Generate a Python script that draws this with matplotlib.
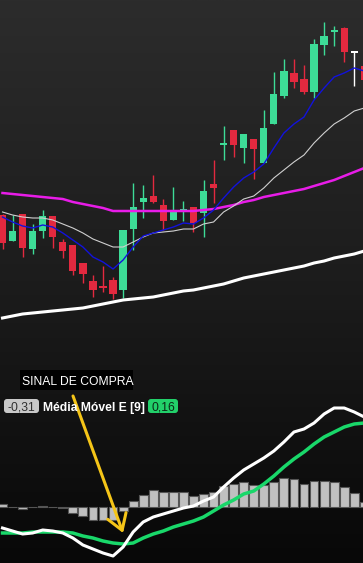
import numpy as np
import matplotlib.pyplot as plt
from matplotlib.colors import LinearSegmentedColormap
from matplotlib.patches import FancyBboxPatch, Rectangle

# candles (price units)
opens  = [115, 89, 116, 81, 99, 114, 88, 85, 67, 49, 43, 50, 40, 101, 128, 134, 125, 110, 119.5,
          123, 117, 146, 185.5, 200, 182, 191, 167, 206, 234, 257, 251, 238, 285, 299, 302, 278, 264]
closes = [87, 99, 82, 99, 114, 93, 79, 59, 56, 40, 42.5, 36, 100, 123, 132, 128, 109, 118, 120,
          107, 139, 142, 186, 185, 196, 181, 202, 236, 259, 248, 238, 286, 294, 299, 278, 278, 250]
highs  = [116, 115, 116, 106, 120, 114, 91, 85, 67, 55, 64, 53, 100, 147, 145, 155, 131, 143, 129,
          123, 150, 170, 204, 200, 196, 191, 220, 258, 271, 271, 265, 291, 308, 304, 303, 278, 264]
lows   = [81, 89, 73, 76, 92, 82, 72, 55, 47, 33, 38, 31, 32, 80, 112, 127, 100, 110, 109,
          98, 93, 127, 170, 173, 167, 151, 167, 206, 232, 242, 236, 232, 275, 284, 268, 244, 250]
special_colors = {35: "white"}

# moving averages
ema9   = [113, 108, 104, 102, 105, 103, 97, 90, 83, 73, 68, 61, 70, 83, 94, 97, 100, 103, 107,
          106, 112, 120, 132, 143, 152, 158, 166, 182, 197, 206, 213, 230, 242, 253, 257, 262, 259]
sma20  = [118, 115, 113, 112, 112, 110, 106, 102, 97, 91, 87, 83, 83, 88, 93, 97, 98, 99, 101,
          101, 106, 108, 118, 124, 131, 134, 142, 152, 160, 168, 175, 187, 197, 206, 212, 219, 222]
sma50  = [137, 136, 135, 134, 133, 132, 131, 128, 126, 124, 122, 119, 119, 119, 119, 119, 119, 119, 119,
          119, 120, 121, 123, 125, 128, 130, 133, 135, 137, 139, 141, 144, 147, 150, 154, 158, 162]
sma200 = [12, 14, 16, 17, 18, 19, 20, 21, 22, 24, 26, 28, 30, 31, 32, 33, 35, 37, 39,
          40, 42, 44, 46, 49, 52, 54, 56, 58, 60, 62, 64, 67, 69, 72, 74, 76, 79]

# MACD panel
macd   = [-21, -24, -27, -26, -23, -24, -26, -31, -38, -42, -46, -49, -40, -25, -15, -10, -7, -4, -1,
          1, 6, 10, 20, 29, 37, 43, 49, 56, 65, 75, 78, 84, 93, 99, 99, 95, 90]
signal = [-26, -26, -26, -25, -25, -25, -25, -26, -29, -31, -34, -36, -37, -36, -31, -27, -24, -20, -17,
          -14, -10, -4, 2, 7, 13, 16, 23, 31, 40, 48, 55, 63, 70, 75, 80, 83, 84]
hist   = [2.7, 0.4, -1.8, 0.3, 0.8, 0.2, -1.3, -5.8, -9, -12.7, -13, -13, -3.5, 5.6, 12.2, 16.6, 14.6, 14.6, 14.6,
          11.4, 13.4, 14.6, 20.6, 22.6, 24.6, 21.6, 22.2, 25, 29, 28, 23, 25.6, 25.6, 25, 20, 14, 5]

W, H = 363, 563
GREEN = "#3ddc97"
RED = "#e3293f"

plt.rcParams["font.family"] = ["Liberation Sans", "DejaVu Sans"]
fig = plt.figure(figsize=(W / 100, H / 100), dpi=100)

bg = fig.add_axes([0, 0, 1, 1], zorder=0)
grad = np.linspace(0, 1, 256).reshape(-1, 1)
cmap = LinearSegmentedColormap.from_list("bg", ["#2c2c2c", "#1c1c1c", "#080808"])
bg.imshow(grad, cmap=cmap, aspect="auto", extent=[0, 1, 0, 1], origin="upper")
bg.axis("off")

x = np.arange(len(opens))
xlim = (-2.5 / 10.05, (W - 2.5) / 10.05)

ax = fig.add_axes([0, 233 / H, 1, 330 / H], zorder=1)
ax.set_facecolor("none")
ax.set_xlim(*xlim)
ax.set_ylim(0, 330)
ax.axis("off")

for i in x:
    o, c = opens[i], closes[i]
    col = special_colors.get(i, GREEN if c >= o else RED)
    ax.vlines(i, lows[i], highs[i], color=col, lw=1.0, zorder=2)
    h = max(abs(c - o), 1.8)
    ax.bar(i, h, bottom=min(o, c) - (h - abs(c - o)) / 2, width=0.72, color=col, lw=0, zorder=2)

ax.plot(x, sma200, color="white", lw=2.2, zorder=3)
ax.plot(x, sma50, color="#e81ce8", lw=1.8, zorder=3)
ax.plot(x, sma20, color="#d0d0d0", lw=0.8, zorder=3)
ax.plot(x, ema9, color="#1212dc", lw=1.0, zorder=3)

ax2 = fig.add_axes([0, 0, 1, 233 / H], zorder=1)
ax2.set_facecolor("none")
ax2.set_xlim(*xlim)
ax2.set_ylim(-56, 177)
ax2.axis("off")
ax2.bar(x, hist, width=0.88, color="#c0c0c0", edgecolor="#555555", lw=0.8, zorder=2)
ax2.plot(x, signal, color="#19d86a", lw=2.5, zorder=3)
ax2.plot(x, macd, color="white", lw=2.2, zorder=4)

# overlay in pixel coordinates for labels
ov = fig.add_axes([0, 0, 1, 1], zorder=5)
ov.set_facecolor("none")
ov.set_xlim(0, W)
ov.set_ylim(H, 0)
ov.axis("off")

ov.add_patch(Rectangle((20, 370), 113, 20, facecolor="black", lw=0))
ov.text(22, 385, "SINAL DE COMPRA", color="white", fontsize=8.7, va="baseline", ha="left")

ov.add_patch(FancyBboxPatch((4, 399), 35, 14, boxstyle="round,pad=0,rounding_size=3",
                            facecolor="#c8c8c8", lw=0, zorder=3))
ov.text(21.5, 410.5, "-0,31", color="#303030", fontsize=8.7, va="baseline", ha="center", zorder=4)
ov.text(43, 410.5, "Média Móvel E [9]", color="white", fontsize=8.7, fontweight="bold",
        va="baseline", ha="left", zorder=4)
ov.add_patch(FancyBboxPatch((148, 399), 30, 14, boxstyle="round,pad=0,rounding_size=3",
                            facecolor="#22d06a", lw=0, zorder=3))
ov.text(163, 410.5, "0,16", color="#0b2a16", fontsize=8.7, va="baseline", ha="center", zorder=4)

ov.annotate("", xy=(12, -26), xycoords=ax2.transData, xytext=(73, 396), textcoords="data",
            arrowprops=dict(arrowstyle="->,head_length=1.1,head_width=0.7", color="#f5c518",
                            lw=2.2, shrinkA=0, shrinkB=0, mutation_scale=10), zorder=2)

fig.savefig("out.png", dpi=100)
